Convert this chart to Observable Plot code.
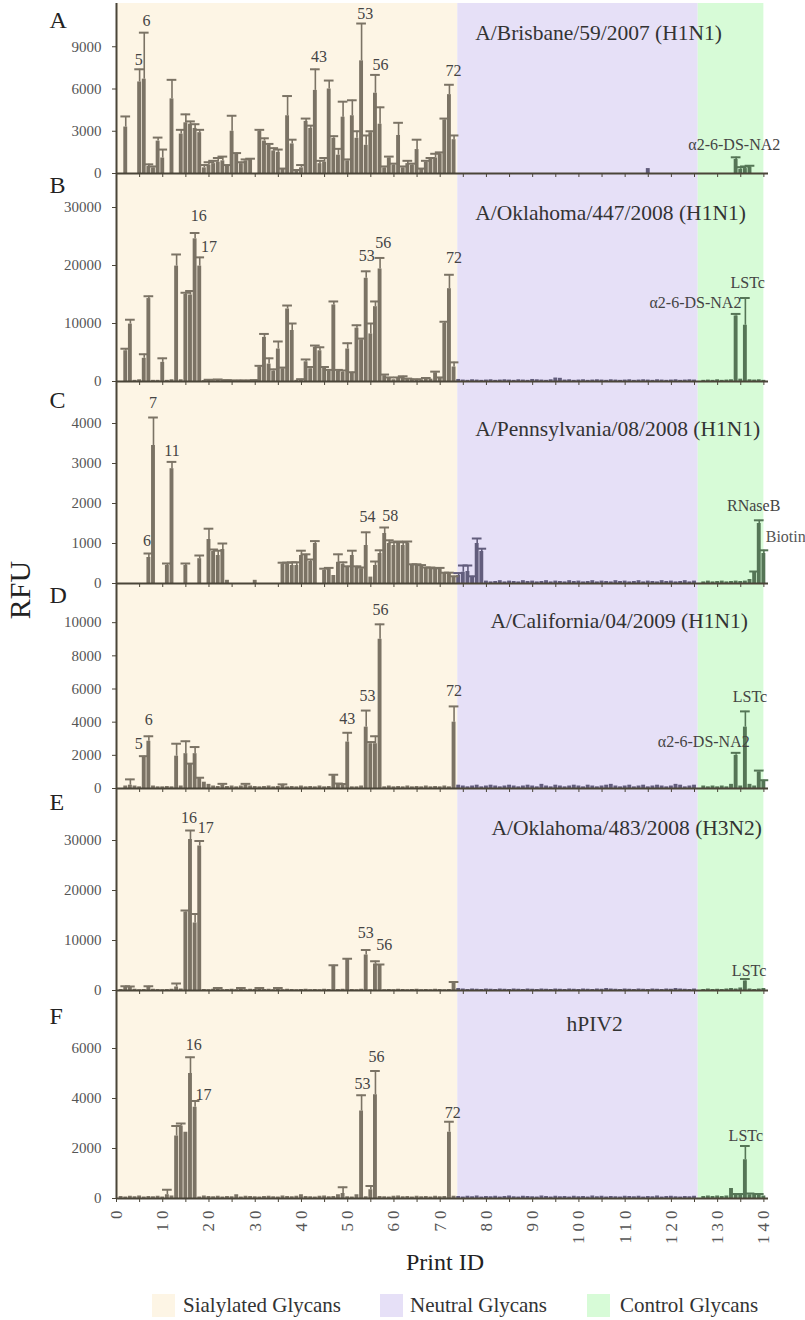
<!DOCTYPE html>
<html><head><meta charset="utf-8">
<script src="https://cdn.jsdelivr.net/npm/d3@7"></script>
<script src="https://cdn.jsdelivr.net/npm/@observablehq/plot@0.6"></script>
<style>
body{margin:0;background:#fff;}
#fig{position:relative;width:805px;height:1320px;font-family:"Liberation Serif","DejaVu Serif",serif;overflow:hidden;}
#fig svg{position:absolute;left:0;overflow:visible;}
.lab{position:absolute;white-space:nowrap;color:#222;font-family:"Liberation Serif","DejaVu Serif",serif;}
.sw{position:absolute;width:23px;height:23px;}
</style></head><body><div id="fig"></div>
<script>
// ---------- data ----------
const xTicks = d3.range(0, 141, 5);
const bands = [
  {name: "Sialylated Glycans", x1: 0, x2: 73.8, color: "#FDF5E5"},
  {name: "Neutral Glycans", x1: 73.8, x2: 125.8, color: "#E6E0F7"},
  {name: "Control Glycans", x1: 125.8, x2: 140, color: "#D7FBD7"}
];

// [print id, RFU, error]
const barsA = [[2,3300,750],[5,6500,900],[6,6700,3300],[7,500,150],[8,400,100],[9,2300,250],[10,1100,600],[12,5300,1350],[14,2800,300],[15,3600,600],[16,3500,200],[17,3200,300],[18,2900,200],[19,400,200],[20,600,200],[21,700,200],[22,800,300],[23,900,300],[24,500,100],[25,3000,1100],[26,1400,50],[27,700,100],[28,900,100],[29,1000,50],[31,3000,100],[32,2300,200],[33,2000,100],[34,1600,200],[35,1500,200],[36,300,50],[37,4100,1400],[38,2100,300],[39,200,50],[40,400,200],[41,3700,200],[42,3200,200],[43,5900,1500],[44,700,200],[45,800,300],[46,6000,600],[47,2500,150],[48,1300,450],[49,4000,1100],[50,900,100],[51,4100,1100],[52,2500,500],[53,8000,2650],[54,2000,700],[55,2900,100],[56,5700,1300],[57,3500,1200],[58,400,100],[59,1100,100],[60,600,100],[61,2700,900],[62,400,100],[63,700,200],[64,600,100],[65,1700,700],[66,300,50],[67,800,100],[68,1000,100],[69,1100,300],[70,1400,100],[71,3800,100],[72,5600,700],[73,2400,300],[115,350,0],[134,1000,150],[135,300,150],[136,350,150],[137,450,100]];
const barsB = [[2,5300,350],[3,9900,750],[4,200,0],[5,300,0],[6,4000,700],[7,14300,400],[8,200,0],[9,200,0],[10,3300,700],[11,200,0],[12,300,0],[13,19900,2000],[14,300,0],[15,15000,300],[16,14900,700],[17,24600,1000],[18,19900,1500],[19,150,0],[20,200,100],[21,100,0],[22,250,100],[23,150,0],[24,200,50],[25,100,0],[26,150,50],[27,200,0],[28,150,50],[29,100,0],[30,200,50],[31,2500,200],[32,7600,600],[33,3000,1000],[34,1800,300],[35,5600,1300],[36,2200,200],[37,12500,600],[38,8800,1200],[39,200,0],[40,300,100],[41,3400,400],[42,2200,300],[43,5900,300],[44,5300,600],[45,2300,200],[46,1800,200],[47,13200,600],[48,1800,200],[49,1600,300],[50,5600,1000],[51,1400,200],[52,9200,500],[53,7200,200],[54,17800,1200],[55,8200,1800],[56,12900,900],[57,19400,1900],[58,1000,200],[59,600,100],[60,300,0],[61,600,100],[62,700,200],[63,400,100],[64,400,0],[65,300,100],[66,300,0],[67,500,100],[68,400,0],[69,1500,200],[70,600,100],[71,10000,300],[72,16000,2400],[73,2500,800],[127,200,0],[128,250,0],[129,200,0],[130,300,0],[131,200,0],[132,250,0],[133,300,0],[134,11300,350],[135,400,0],[136,9700,4700],[137,300,0],[138,250,0],[139,300,0],[140,200,0]];
const barsC = [[7,650,100],[8,3450,700],[11,450,50],[12,2870,170],[15,450,50],[18,620,80],[20,1100,270],[21,800,50],[22,700,120],[23,850,150],[24,80,0],[30,80,0],[36,490,30],[37,490,30],[38,450,80],[39,450,80],[40,700,120],[41,700,30],[42,550,50],[43,1000,60],[45,330,40],[46,370,20],[47,200,0],[48,530,200],[49,480,50],[50,400,30],[51,700,120],[52,400,30],[53,370,30],[54,950,330],[55,160,0],[56,450,100],[57,750,80],[58,1250,150],[59,1000,80],[60,950,80],[61,1000,50],[62,950,80],[63,1000,50],[64,450,30],[65,450,30],[66,430,30],[67,380,20],[68,380,20],[69,360,20],[70,370,20],[71,250,20],[72,250,20],[73,150,30],[74,200,60],[75,280,170],[76,300,150],[77,150,30],[78,1000,125],[79,800,70],[127,40,0],[128,60,0],[129,40,0],[130,50,0],[131,60,0],[132,40,0],[133,50,0],[134,60,0],[135,50,0],[136,60,0],[137,100,0],[138,280,20],[139,1500,80],[140,750,80]];
const barsD = [[2,150,0],[3,200,350],[4,150,0],[5,100,0],[6,1900,50],[7,2850,300],[8,150,0],[9,100,0],[10,100,0],[11,120,0],[12,100,0],[13,1950,750],[14,150,0],[15,2100,750],[16,1450,50],[17,2100,400],[18,600,50],[19,380,0],[20,250,0],[21,150,0],[22,120,0],[23,200,80],[24,120,0],[25,150,0],[26,100,0],[27,150,0],[28,200,80],[29,150,0],[30,120,0],[31,100,0],[32,120,0],[33,150,0],[34,100,0],[35,120,0],[36,200,50],[37,100,0],[38,120,0],[39,100,0],[40,150,0],[41,100,0],[42,120,0],[43,100,0],[44,150,0],[45,100,0],[46,120,0],[47,780,50],[48,280,20],[49,250,20],[50,2800,560],[51,100,0],[52,100,0],[53,150,0],[54,3700,1000],[55,2700,100],[56,2700,450],[57,9000,900],[58,100,0],[59,150,0],[60,100,0],[61,120,0],[62,100,0],[63,150,0],[64,100,0],[65,120,0],[66,100,0],[67,150,0],[68,100,0],[69,120,0],[70,100,0],[71,150,0],[72,100,0],[73,4000,950],[127,150,0],[128,100,0],[129,150,0],[130,100,0],[131,150,0],[132,100,0],[133,250,0],[134,2000,150],[135,150,0],[136,3700,950],[137,250,0],[138,150,0],[139,1000,80],[140,450,50]];
const barsE = [[2,700,150],[3,700,100],[7,800,50],[13,700,700],[14,300,0],[15,15700,300],[16,30200,1800],[17,13500,1800],[18,28900,1000],[22,450,50],[27,450,50],[31,450,50],[35,450,50],[47,5000,50],[50,6300,50],[54,7100,1000],[56,5300,550],[57,5100,100],[73,1600,100],[127,200,0],[128,300,0],[129,200,0],[130,250,0],[131,200,0],[132,300,0],[133,400,0],[134,300,0],[135,500,0],[136,1900,400],[137,300,0],[138,200,0],[139,300,0],[140,400,0]];
const barsF = [[11,150,200],[12,100,0],[13,2500,400],[14,2900,100],[15,2650,0],[16,5000,650],[17,3650,250],[26,150,0],[40,150,0],[48,150,0],[49,200,250],[52,150,0],[53,3500,630],[55,350,150],[56,4150,950],[72,2650,420],[127,80,0],[128,100,0],[129,80,0],[130,100,0],[131,80,0],[132,100,0],[133,400,0],[134,150,30],[135,150,30],[136,1550,550],[137,150,50],[138,200,0],[139,150,30],[140,100,0]];

// low background readings (start id, values)
const neutralB = [350,250,200,300,250,200,250,300,200,250,300,250,200, 300,250,200,350,300,250,200,300,600,550,250,300,200, 250,300,200,250,300,250,200,300,250,200,250,300,200, 250,300,250,200,300,250,200,250,300,200,250,300,250];
const neutralC = [60,40,50,70,40,60,50,40,70,50,60,40,50, 70,40,60,50,40,70,50,60,40,50,70,40,60, 50,40,70,50,60,40,50,70,40,60,50,40,70, 50,60,40,50,70,40,60];
const neutralD = [200,150,100,150,200,100,150,200,150,100,150,200,150, 100,150,200,150,100,250,150,100,200,150,100,150,200, 150,100,200,150,100,150,200,250,150,100,150,200,100, 150,200,100,150,200,150,100,150,250,200,100,150,200];
const neutralE = [400,300,200,300,250,200,300,250,200,300,250,200,300, 250,200,300,250,200,300,250,200,300,250,200,300,250, 200,300,250,200,300,250,400,300,250,200,300,250,200, 300,250,200,300,250,200,300,250,400,300,250,200,300];
const neutralF = [80,60,90,70,100,60,80,70,90,60,80,100,70, 60,90,80,70,60,100,80,60,90,70,80,60,90, 70,80,60,100,70,90,60,80,70,60,90,80,70, 90,60,80,70,100,60,80,90,70,60,80,70,90];
const sialLowE = [200,150,200,250,150,200,150,250,200,150, 200,250,150,200,150,200,250,150,200,150, 250,200,150,200,250,150,200,150,250,200, 150,200,250,150,200,150,250,200,150,200, 250,150,200,150,250,200,150,200,250,150, 200,150,250,200,150,200,250,150,200,150, 250,200,150,200,250,150,200,150,250,200, 150,200,250];
const sialLowF = [80,60,90,70,100,60,80,70,90,60, 80,100,70,60,90,80,70,60,100,80, 70,90,60,80,70,100,60,90,80,70, 60,80,90,70,60,100,80,70,90,60, 80,70,60,90,100,70,80,60,90,70, 60,80,100,70,90,60,80,70,60,90, 100,70,80,60,90,70,80,60,90,70, 80,60,90];

// annotations: x (print id), y (RFU), text
const labelsA = [[4.8,7700,"5"],[6.5,10500,"6"],[43.8,7900,"43"],[53.8,11000,"53"],[57.1,7350,"56"],[72.9,6950,"72"],[133.6,1700,"α2-6-DS-NA2"]];
const labelsB = [[17.8,27600,"16"],[20.0,22400,"17"],[54.1,20800,"53"],[57.7,23100,"56"],[73.0,20400,"72"],[136.5,16200,"LSTc"],[125.2,12700,"α2-6-DS-NA2"]];
const labelsC = [[7.9,4380,"7"],[12.0,3200,"11"],[6.6,950,"6"],[54.3,1530,"54"],[59.2,1570,"58"],[137.8,1820,"RNaseB"]];
const labelsD = [[4.8,2400,"5"],[7.0,3800,"6"],[49.9,3900,"43"],[54.3,5270,"53"],[57.1,10490,"56"],[73.0,5600,"72"],[137.0,5200,"LSTc"],[127.0,2500,"α2-6-DS-NA2"]];
const labelsE = [[15.7,33600,"16"],[19.3,31600,"17"],[53.9,10600,"53"],[57.9,8200,"56"],[136.8,3000,"LSTc"]];
const labelsF = [[16.7,5960,"16"],[18.8,3940,"17"],[53.2,4400,"53"],[56.2,5470,"56"],[72.7,3230,"72"],[136.1,2300,"LSTc"]];

const titles = ["A/Brisbane/59/2007 (H1N1)","A/Oklahoma/447/2008 (H1N1)","A/Pennsylvania/08/2008 (H1N1)","A/California/04/2009 (H1N1)","A/Oklahoma/483/2008 (H3N2)","hPIV2"];
const letters = ["A","B","C","D","E","F"];

// ---------- layout ----------
const AXIS = "#4a4538";
const SERIF = "'Liberation Serif', 'DejaVu Serif', serif";
const barColor = id => id <= 73 ? "#7b7365" : id <= 125 ? "#625d7c" : "#557556";
const fig = document.getElementById("fig");

function mapBars(main, floors) {
  const m = new Map();
  for (const [start, arr] of floors) arr.forEach((v, i) => m.set(start + i, [start + i, v, 0]));
  for (const r of main) m.set(r[0], r);
  return [...m.values()].map(([id, v, e]) => ({id, v, e}));
}

const panels = [
  {top: 4, base: 173, ymax: 12000, yticks: [0,3000,6000,9000], main: barsA, floors: [], labels: labelsA, title: {x: 77.6, y: 9500, a: "start"}, letter: 10300},
  {top: 178, base: 381, ymax: 35000, yticks: [0,10000,20000,30000], main: barsB, floors: [[74, neutralB]], labels: labelsB, title: {x: 77.6, y: 27900, a: "start"}, letter: 32500},
  {top: 383, base: 583, ymax: 5000, yticks: [0,1000,2000,3000,4000], main: barsC, floors: [[80, neutralC]], labels: labelsC, title: {x: 77.6, y: 3700, a: "start"}, letter: 4400, extra: [[140.4,1030,"Biotin"]]},
  {top: 589, base: 788, ymax: 12000, yticks: [0,2000,4000,6000,8000,10000], main: barsD, floors: [[74, neutralD]], labels: labelsD, title: {x: 80.9, y: 9650, a: "start"}, letter: 11200},
  {top: 790, base: 990, ymax: 40000, yticks: [0,10000,20000,30000], main: barsE, floors: [[1, sialLowE],[74, neutralE]], labels: labelsE, title: {x: 81.1, y: 31200, a: "start"}, letter: 36200},
  {top: 998, base: 1198, ymax: 8000, yticks: [0,2000,4000,6000], main: barsF, floors: [[1, sialLowF],[74, neutralF]], labels: labelsF, title: {x: 103.4, y: 6700, a: "middle"}, letter: 6980}
];

// background bands + y axis line
const bg = Plot.plot({
  width: 805, height: 1198 - 3, marginTop: 0, marginBottom: 0, marginLeft: 116, marginRight: 37,
  x: {domain: [0, 141], axis: null}, y: {domain: [0, 1], axis: null},
  color: {type: "identity"},
  style: {background: "transparent", overflow: "visible"},
  marks: [
    Plot.rect(bands, {x1: "x1", x2: "x2", y1: 0, y2: 1, fill: "color"}),
    Plot.ruleX([0], {y1: 0, y2: 1, stroke: AXIS, strokeWidth: 2})
  ]
});
bg.style.top = "3px";
fig.appendChild(bg);

panels.forEach((p, i) => {
  const last = i === panels.length - 1;
  const bars = mapBars(p.main, p.floors);
  const errs = bars.filter(d => d.e > 0);
  const mb = last ? 60 : 6;
  const lab = p.labels.map(([x, y, t]) => ({x, y, t}));
  const svg = Plot.plot({
    width: 805, height: (p.base - p.top) + mb,
    marginTop: 0, marginBottom: mb, marginLeft: 116, marginRight: 37,
    style: {background: "transparent", overflow: "visible", fontFamily: SERIF, fontSize: "15px", color: AXIS},
    color: {type: "identity"},
    x: {domain: [0, 141], ticks: xTicks, tickSize: 4, tickPadding: 4, tickRotate: last ? -90 : 0,
        tickFormat: last ? (d => d % 10 === 0 ? String(d) : "") : (() => ""), label: null},
    y: {domain: [0, p.ymax], ticks: p.yticks, tickSize: 4, tickPadding: 11, tickFormat: d => String(d), label: null},
    marks: [
      Plot.rect(bars, {x1: d => d.id - 0.42, x2: d => d.id + 0.42, y1: 0, y2: "v", fill: d => barColor(d.id)}),
      Plot.ruleX(errs, {x: "id", y1: "v", y2: d => d.v + d.e, stroke: d => barColor(d.id), strokeWidth: 1.6}),
      Plot.ruleY(errs, {y: d => d.v + d.e, x1: d => d.id - 1.05, x2: d => d.id + 1.05, stroke: d => barColor(d.id), strokeWidth: 2}),
      Plot.ruleY([0], {stroke: AXIS, strokeWidth: 2}),
      Plot.text(lab, {x: "x", y: "y", text: "t", fontSize: 16, fontFamily: SERIF, fill: "#444", lineAnchor: "bottom", textAnchor: "middle"}),
      Plot.text((p.extra || []).map(([x, y, t]) => ({x, y, t})), {x: "x", y: "y", text: "t", fontSize: 16, fontFamily: SERIF, fill: "#555", lineAnchor: "bottom", textAnchor: "start"}),
      Plot.text([{x: p.title.x, y: p.title.y, t: titles[i]}], {x: "x", y: "y", text: "t", fontSize: 21.5, fontFamily: SERIF, fill: "#333", lineAnchor: "bottom", textAnchor: p.title.a}),
      Plot.text([{x: -14.5, y: p.letter, t: letters[i]}], {x: "x", y: "y", text: "t", fontSize: 24, fontFamily: SERIF, fill: "#222", lineAnchor: "bottom", textAnchor: "start"})
    ]
  });
  svg.style.top = p.top + "px";
  svg.querySelectorAll('g[aria-label="y-axis tick label"] text').forEach(t => { t.style.fill = "#555"; t.style.fontFamily = SERIF; });
  if (last) svg.querySelectorAll('g[aria-label="x-axis tick label"] text').forEach(t => {
    t.style.fill = "#555"; t.style.fontSize = "17px"; t.style.fontFamily = SERIF; t.style.letterSpacing = "4px";
  });
  fig.appendChild(svg);
});

// RFU, Print ID, legend
function addLab(text, css) { const d = document.createElement("div"); d.className = "lab"; d.textContent = text; Object.assign(d.style, {fontFamily: SERIF}, css); fig.appendChild(d); return d; }
addLab("RFU", {left: "20px", top: "590px", fontSize: "30px", transform: "translate(-50%,-50%) rotate(-90deg)"});
addLab("Print ID", {left: "445px", top: "1262px", fontSize: "24px", transform: "translate(-50%,-50%)"});
const legendX = [[152, 183], [380, 410], [587, 620]];
bands.forEach((b, i) => {
  const sw = document.createElement("div"); sw.className = "sw";
  Object.assign(sw.style, {left: legendX[i][0] + "px", top: "1294px", background: b.color});
  fig.appendChild(sw);
  addLab(b.name, {left: legendX[i][1] + "px", top: "1305px", fontSize: "21px", transform: "translateY(-50%)", color: "#333"});
});
</script></body></html>
